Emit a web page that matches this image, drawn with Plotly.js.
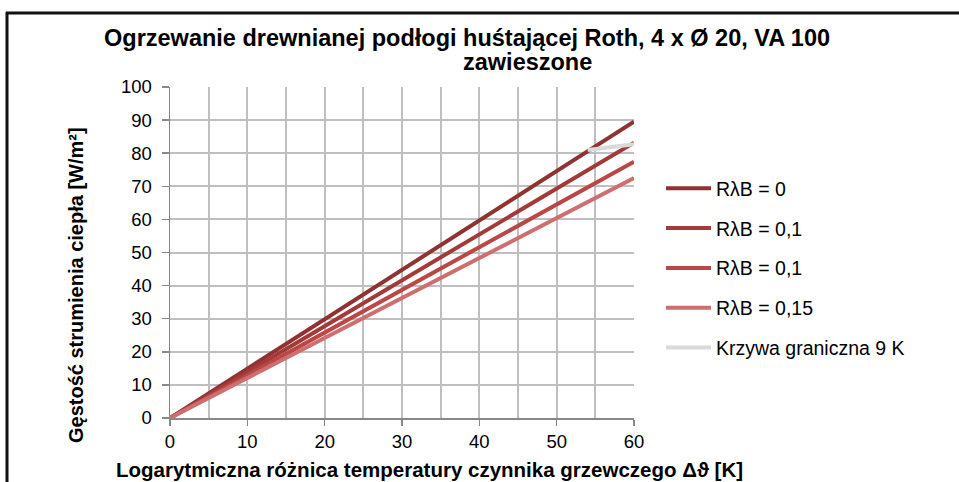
<!DOCTYPE html>
<html>
<head>
<meta charset="utf-8">
<script src="https://cdn.plot.ly/plotly-3.0.1.min.js"></script>
<style>html,body{margin:0;padding:0;background:#fff;}#chart{width:959px;height:482px;}</style>
</head>
<body>
<div id="chart"></div>
<script>
const seriesNames = ["RλB = 0", "RλB = 0,1", "RλB = 0,1", "RλB = 0,15", "Krzywa graniczna 9 K"];
const xLine = [0, 60];
const yR0 = [0, 89.5];
const yR01a = [0, 83.2];
const yR01b = [0, 77.4];
const yR015 = [0, 72.5];
const xLimit = [54, 60];
const yLimit = [81, 82.7];
const colors = ["#8E3232", "#A33A3A", "#BA4646", "#CD6F6F", "#D9D9D9"];

const W = 959, H = 482;
const L = 170, R = 634, T = 87, B = 418;
const pw = R - L, ph = B - T;
function px(x){ return (x - L) / pw; }
function py(y){ return (B - y) / ph; }

const ys = [yR0, yR01a, yR01b, yR015];
const traces = ys.map((y, i) => ({
  x: xLine, y: y, type: 'scatter', mode: 'lines', name: seriesNames[i],
  line: {color: colors[i], width: 4}, legendgroup: 'g' + i
}));
traces.push({
  x: xLimit, y: yLimit, type: 'scatter', mode: 'lines', name: seriesNames[4],
  line: {color: colors[4], width: 4}, legendgroup: 'g4'
});

const fam = 'Liberation Sans, Arial, sans-serif';
const layout = {
  width: W, height: H,
  margin: {l: L, r: W - R, t: T, b: H - B, pad: 0},
  paper_bgcolor: '#fff', plot_bgcolor: '#fff',
  font: {family: fam, size: 18, color: '#000'},
  showlegend: true,
  legend: {x: px(661), y: py(169), xanchor: 'left', yanchor: 'top', font: {size: 19.5, family: fam, color: '#000'},
           tracegroupgap: 11.5, itemwidth: 45, bgcolor: 'rgba(0,0,0,0)'},
  xaxis: {range: [0, 60], dtick: 10, tick0: 0, showgrid: true, gridcolor: '#BFBFBF', gridwidth: 2,
          minor: {dtick: 5, showgrid: true, gridcolor: '#BFBFBF', gridwidth: 2},
          ticks: 'outside', ticklen: 6, tickcolor: '#888', tickwidth: 1.5,
          showline: true, linecolor: '#888', linewidth: 1.5, zeroline: false, fixedrange: true,
          tickfont: {size: 18.5, family: fam, color: '#000'}},
  yaxis: {range: [0, 100], dtick: 10, tick0: 0, showgrid: true, gridcolor: '#BFBFBF', gridwidth: 2,
          ticks: 'outside', ticklen: 7, tickcolor: '#888', tickwidth: 1.5, ticklabelstandoff: 6,
          showline: true, linecolor: '#888', linewidth: 1.5, zeroline: false, fixedrange: true,
          tickfont: {size: 18.5, family: fam, color: '#000'}},
  annotations: [
    {text: '<b>Ogrzewanie drewnianej podłogi huśtającej Roth, 4 x Ø 20, VA 100</b>', xref: 'paper', yref: 'paper',
     x: px(467), y: py(38), xanchor: 'center', yanchor: 'middle', showarrow: false,
     font: {size: 23.5, family: fam, color: '#000'}},
    {text: '<b>zawieszone</b>', xref: 'paper', yref: 'paper',
     x: px(527), y: py(62), xanchor: 'center', yanchor: 'middle', showarrow: false,
     font: {size: 23.5, family: fam, color: '#000'}},
    {text: '<b>Gęstość strumienia ciepła [W/m²]</b>', xref: 'paper', yref: 'paper',
     x: px(76), y: py(285), xanchor: 'center', yanchor: 'middle', showarrow: false, textangle: -90,
     font: {size: 20, family: fam, color: '#000'}},
    {text: '<b>Logarytmiczna różnica temperatury czynnika grzewczego Δϑ [K]</b>', xref: 'paper', yref: 'paper',
     x: px(429), y: py(469), xanchor: 'center', yanchor: 'middle', showarrow: false,
     font: {size: 20.5, family: fam, color: '#000'}}
  ],
  shapes: [
    {type: 'line', xref: 'paper', yref: 'paper', x0: px(6), x1: px(959), y0: py(13), y1: py(13),
     line: {color: '#111', width: 3}},
    {type: 'line', xref: 'paper', yref: 'paper', x0: px(7), x1: px(7), y0: py(12), y1: py(482),
     line: {color: '#111', width: 3}}
  ]
};
Plotly.newPlot('chart', traces, layout, {displayModeBar: false, staticPlot: true});
</script>
</body>
</html>
